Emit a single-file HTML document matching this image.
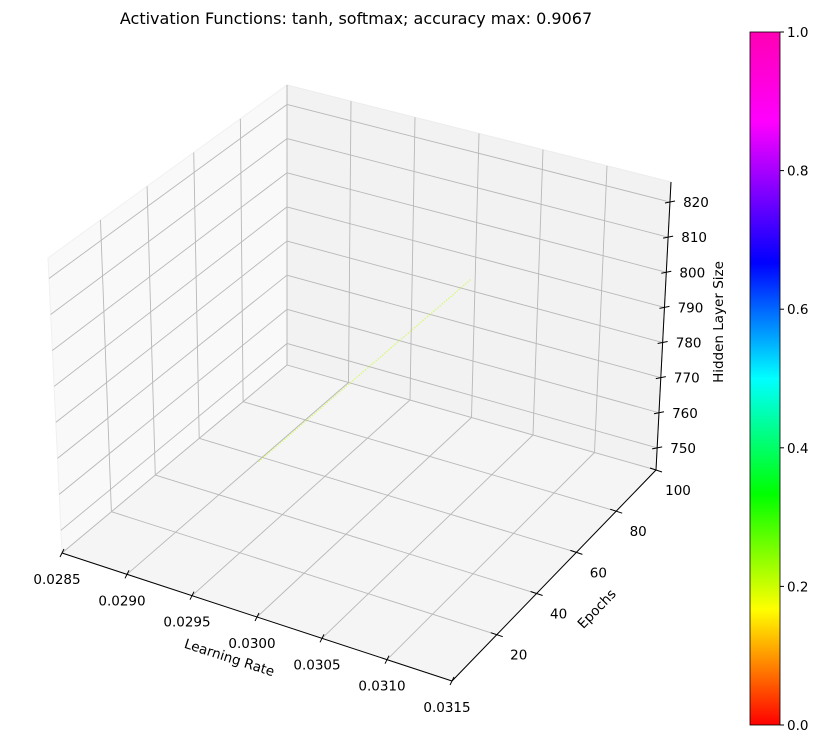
<!DOCTYPE html>
<html><head><meta charset="utf-8"><style>
html,body{margin:0;padding:0;background:#fff;}
svg{display:block;font-family:"DejaVu Sans","Liberation Sans",sans-serif;}
</style></head><body>
<svg id="chart" width="825" height="743" viewBox="0 0 825 743" xmlns="http://www.w3.org/2000/svg">
<defs>
<linearGradient id="hsvgrad" x1="0" y1="1" x2="0" y2="0">
<stop offset="0" stop-color="#ff0000"/><stop offset="0.167" stop-color="#ffff00"/>
<stop offset="0.333" stop-color="#00ff00"/><stop offset="0.5" stop-color="#00ffff"/>
<stop offset="0.667" stop-color="#0000ff"/><stop offset="0.87" stop-color="#ff00ff"/>
<stop offset="1" stop-color="#ff00b4"/>
</linearGradient>
</defs>
<text x="356" y="24" font-size="16" text-anchor="middle">Activation Functions: tanh, softmax; accuracy max: 0.9067</text>
<g id="panes"></g><g id="grid"></g><g id="axes"></g><g id="data"></g>
<g>
<rect x="750" y="32" width="30" height="693" fill="url(#hsvgrad)" stroke="#000" stroke-width="0.8"/>
<g id="cbticks"></g>
</g>
</svg>
<script>
const xTicks = [0.0285,0.0290,0.0295,0.0300,0.0305,0.0310,0.0315];
const xTickLabels = ["0.0285","0.0290","0.0295","0.0300","0.0305","0.0310","0.0315"];
const eTicks = [20,40,60,80,100];
const zTicks = [750,760,770,780,790,800,810,820];
const cbTicks = [0,0.2,0.4,0.6,0.8,1.0];
const cbTickLabels = ["0.0","0.2","0.4","0.6","0.8","1.0"];
const learningRate = [0.02996];
const hiddenSize = [783];
const epochs = [1,2,3,4,5,6,7,8,9,10,11,12,13,14,15,16,17,18,19,20,21,22,23,24,25,26,27,28,29,30,31,32,33,34,35,36,37,38,39,40,41,42,43,44,45,46,47,48,49,50,51,52,53,54,55,56,57,58,59,60,61,62,63,64,65,66,67,68,69,70,71,72,73,74,75,76,77,78,79,80,81,82,83,84,85,86,87,88,89,90,91,92,93,94,95,96,97,98,99,100];
const accuracyColor = [0.21];

const XR=[0.0285,0.0315], ER=[-2.5,100], ZR=[743.7,825.7];
const C={
 "000":[62,553],"100":[452,681],"010":[287,365],"110":[656,470],
 "001":[48,258],"101":[466,359],"011":[287,85],"111":[671,182]};
function P(u,v,w){
  let x=0,y=0;
  for(const a of [0,1])for(const b of [0,1])for(const c of [0,1]){
    const wt=(a?u:1-u)*(b?v:1-v)*(c?w:1-w);const p=C[""+a+b+c];x+=wt*p[0];y+=wt*p[1];}
  return [x,y];}
const fu=x=>(x-XR[0])/(XR[1]-XR[0]), fv=e=>(e-ER[0])/(ER[1]-ER[0]), fw=z=>(z-ZR[0])/(ZR[1]-ZR[0]);
const NS="http://www.w3.org/2000/svg";
function el(tag,attrs,parent){const e=document.createElementNS(NS,tag);for(const k in attrs)e.setAttribute(k,attrs[k]);parent.appendChild(e);return e;}
function poly(pts){return pts.map(p=>p[0].toFixed(1)+","+p[1].toFixed(1)).join(" ");}
const panes=document.getElementById('panes'),grid=document.getElementById('grid'),axes=document.getElementById('axes'),data=document.getElementById('data');
let e;
e=el('polygon',{points:poly([P(0,0,0),P(0,1,0),P(0,1,1),P(0,0,1)]),fill:'#f9f9f9',stroke:'#f0f0f0'},panes);


e=el('polygon',{points:poly([P(0,1,0),P(1,1,0),P(1,1,1),P(0,1,1)]),fill:'#f2f2f2',stroke:'#ececec'},panes);


e=el('polygon',{points:poly([P(0,0,0),P(1,0,0),P(1,1,0),P(0,1,0)]),fill:'#f5f5f5',stroke:'#eeeeee'},panes);


function gl(a,b){const l=el('line',{x1:a[0],y1:a[1],x2:b[0],y2:b[1],stroke:'#b8b8b8','stroke-width':0.9},grid);

}
xTicks.forEach(t=>{const u=fu(t);gl(P(u,0,0),P(u,1,0));gl(P(u,1,0),P(u,1,1));});
eTicks.forEach(t=>{const v=fv(t);gl(P(0,v,0),P(1,v,0));gl(P(0,v,0),P(0,v,1));});
zTicks.forEach(t=>{const w=fw(t);gl(P(0,0,w),P(0,1,w));gl(P(0,1,w),P(1,1,w));});
function axl(a,b,name){const l=el('line',{x1:a[0],y1:a[1],x2:b[0],y2:b[1],stroke:'#000','stroke-width':1},axes);

}
axl(P(0,0,0),P(1,0,0),'x-axis-line');
axl(P(1,0,0),P(1,1,0),'epochs-axis-line');
axl(P(1,1,0),P(1,1,1),'z-axis-line');
function tick(p,dx,dy){el('line',{x1:p[0]-dx,y1:p[1]-dy,x2:p[0]+dx,y2:p[1]+dy,stroke:'#000','stroke-width':1},axes);}
function txt(x,y,s,anchor,name,rot){const t=el('text',{x:x,y:y,'font-size':13.5,'text-anchor':anchor||'middle'},axes);t.textContent=s;
if(rot)t.setAttribute('transform','rotate('+rot+' '+x+' '+y+')');

return t;}
xTicks.forEach((t,i)=>{const p=P(fu(t),0,0);tick(p,-2,4);txt(p[0]-5,p[1]+31,xTickLabels[i],'middle','x-tick-label');});
eTicks.forEach(t=>{const p=P(1,fv(t),0);tick(p,6,2);txt(p[0]+22,p[1]+25,String(t),'middle','epochs-tick-label');});
zTicks.forEach(t=>{const p=P(1,1,fw(t));tick(p,5,-1);txt(p[0]+26,p[1]+5,String(t),'middle','z-tick-label');});
txt(228,662,'Learning Rate','middle','x-axis-title',18);
txt(600,612,'Epochs','middle','epochs-axis-title',-46);
txt(723,322,'Hidden Layer Size','middle','z-axis-title',-90);
function hsv(v){const h=v*6;const i=Math.floor(h)%6,f=h-Math.floor(h);const q=Math.round(255*(1-f)),t=Math.round(255*f);
const m=[[255,t,0],[q,255,0],[0,255,t],[0,q,255],[t,0,255],[255,0,q]][i];return 'rgb('+m.join(',')+')';}
epochs.forEach((ep,i)=>{const p=P(fu(learningRate[0]),fv(ep),fw(hiddenSize[0]));
const c=el('circle',{cx:p[0].toFixed(1),cy:p[1].toFixed(1),r:0.8,fill:hsv(accuracyColor[0]),opacity:0.5},data);

});
const cb=document.getElementById('cbticks');
cbTicks.forEach((t,i)=>{const y=725-t*693;el('line',{x1:780,y1:y,x2:784,y2:y,stroke:'#000','stroke-width':1},cb);
const tt=el('text',{x:787,y:y+5,'font-size':13.5},cb);tt.textContent=cbTickLabels[i];

});
</script>
</body></html>
